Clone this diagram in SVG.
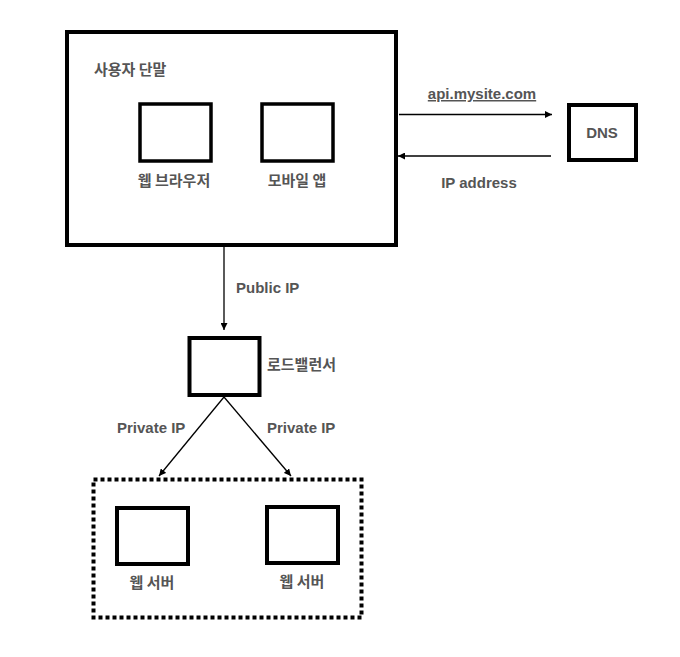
<svg xmlns="http://www.w3.org/2000/svg" width="680" height="657" viewBox="0 0 680 657">
<style>
.box{fill:#fff;stroke:#000;stroke-width:4}
.sbox{fill:#fff;stroke:#000;stroke-width:3.5}
.lbl{font-family:"Liberation Sans","Noto Sans CJK KR",Arial,sans-serif;font-weight:bold;font-size:15px;fill:#555}
.kr{font-family:"Noto Sans CJK KR","Liberation Sans",sans-serif;font-weight:bold;font-size:15px;fill:#555}
.conn{stroke:#000;stroke-width:1.3;fill:none;marker-end:url(#ah)}
</style>
<defs>
<marker id="ah" viewBox="0 0 10 10" refX="10" refY="5" markerWidth="7" markerHeight="7" markerUnits="userSpaceOnUse" orient="auto">
<path d="M0,0 L10,5 L0,10 z" fill="#000"/>
</marker>
</defs>
<rect width="680" height="657" fill="#fff"/>
<g id="client">
<rect class="box" x="67" y="32" width="329" height="213"/>
<text class="kr" x="94" y="75">사용자 단말</text>
</g>
<g id="web-browser">
<rect class="sbox" x="140" y="104" width="71" height="57"/>
<text class="kr" x="174" y="186" text-anchor="middle">웹 브라우저</text>
</g>
<g id="mobile-app">
<rect class="sbox" x="262" y="104" width="71" height="57"/>
<text class="kr" x="297" y="186" text-anchor="middle">모바일 앱</text>
</g>
<g id="dns">
<rect class="box" x="569" y="105" width="67" height="55"/>
<text class="lbl" x="602" y="138" text-anchor="middle">DNS</text>
</g>
<g id="load-balancer">
<rect class="box" x="189.5" y="338" width="70" height="57"/>
<text class="kr" x="267" y="370">로드밸런서</text>
</g>
<g id="server-group">
<rect x="93.5" y="479.5" width="268" height="138" fill="none" stroke="#000" stroke-width="4" stroke-dasharray="4 3"/>
</g>
<g id="web-server-1">
<rect class="box" x="117" y="508" width="71" height="56"/>
<text class="kr" x="152" y="588" text-anchor="middle">웹 서버</text>
</g>
<g id="web-server-2">
<rect class="box" x="267" y="507" width="71" height="56"/>
<text class="kr" x="302" y="587" text-anchor="middle">웹 서버</text>
</g>
<g id="connectors">
<line class="conn" x1="399" y1="114.5" x2="552" y2="114.5"/>
<line class="conn" x1="551" y1="156" x2="398" y2="156"/>
<line class="conn" x1="224" y1="247" x2="224" y2="330"/>
<line class="conn" x1="224" y1="397" x2="159" y2="476"/>
<line class="conn" x1="224" y1="397" x2="291" y2="476"/>
<text class="lbl" x="482" y="99" text-anchor="middle" text-decoration="underline">api.mysite.com</text>
<text class="lbl" x="479" y="188" text-anchor="middle">IP address</text>
<text class="lbl" x="236" y="293">Public IP</text>
<text class="lbl" x="117" y="433">Private IP</text>
<text class="lbl" x="267" y="433">Private IP</text>
</g>
</svg>
